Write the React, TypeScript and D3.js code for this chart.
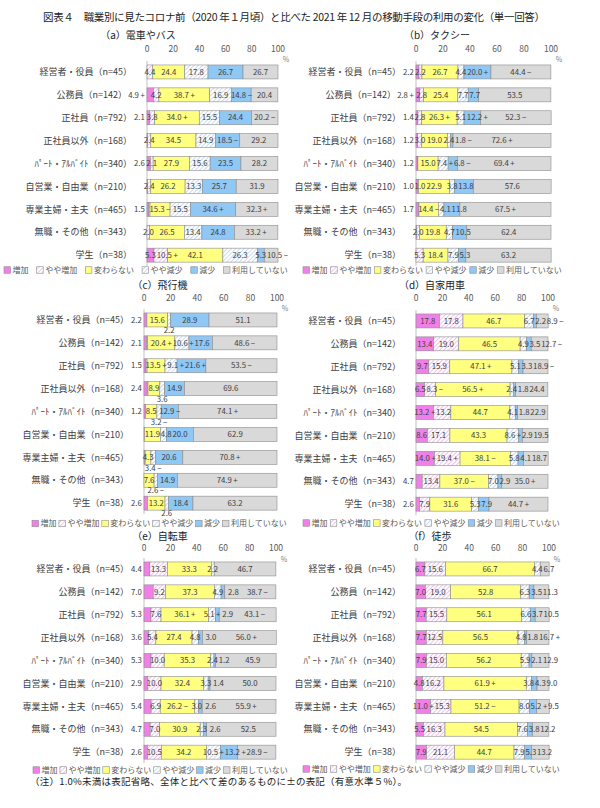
import React from "react";
import * as d3 from "d3";

const categories = [
  "経営者・役員（n=45）",
  "公務員（n=142）",
  "正社員（n=792）",
  "正社員以外（n=168）",
  "ﾊﾟｰﾄ・ｱﾙﾊﾞｲﾄ（n=340）",
  "自営業・自由業（n=210）",
  "専業主婦・主夫（n=465）",
  "無職・その他（n=343）",
  "学生（n=38）",
];

const segments = ["増加", "やや増加", "変わらない", "やや減少", "減少", "利用していない"];
const ticks = [0, 20, 40, 60, 80, 100];

const panelTitles = ["（a）電車やバス", "（b）タクシー", "（c）飛行機", "（d）自家用車", "（e）自転車", "（f）徒歩"];

// values with significance marks (+ / −); values under 1.0 are not labelled
const trainBus = [
  ["0", "4.4", "24.4", "17.8", "26.7", "26.7"],
  ["4.9+", "4.2", "38.7+", "16.9", "14.8−", "20.4"],
  ["2.1", "3.8", "34.0+", "15.5", "24.4", "20.2−"],
  ["0.5", "2.4", "34.5", "14.9", "18.5−", "29.2"],
  ["2.6", "2.1", "27.9", "15.6", "23.5", "28.2"],
  ["0.5", "2.4", "26.2", "13.3", "25.7", "31.9"],
  ["1.5", "0.8", "15.3−", "15.5", "34.6+", "32.3+"],
  ["0", "2.0", "26.5", "13.4", "24.8", "33.2+"],
  ["5.3", "10.5+", "42.1", "26.3", "5.3", "10.5−"],
];
const taxi = [
  ["2.2", "2.2", "26.7", "4.4", "20.0+", "44.4−"],
  ["2.8+", "2.8", "25.4", "7.7", "7.7", "53.5"],
  ["1.4", "2.8", "26.3+", "5.1", "12.2+", "52.3−"],
  ["1.2", "3.0", "19.0", "2.4", "1.8−", "72.6+"],
  ["1.2", "0.2", "15.0", "7.4+", "6.8−", "69.4+"],
  ["1.0", "1.0", "22.9", "3.8", "13.8", "57.6"],
  ["1.7", "0.5", "14.4−", "4.1", "11.8", "67.5+"],
  ["0.6", "2.0", "19.8", "4.7", "10.5", "62.4"],
  ["0", "5.3", "18.4", "7.9", "5.3", "63.2"],
];
const airplane = [
  ["2.2", "0", "15.6", "2.2", "28.9", "51.1"],
  ["2.1", "0.7", "20.4+", "10.6+", "17.6", "48.6−"],
  ["1.5", "0.8", "13.5+", "9.1+", "21.6+", "53.5−"],
  ["2.4", "0.6", "8.9", "3.6", "14.9", "69.6"],
  ["1.2", "0", "8.5", "3.2−", "12.9−", "74.1+"],
  ["0.4", "0", "11.9", "4.8", "20.0", "62.9"],
  ["0.5", "0.4", "4.3", "3.4−", "20.6", "70.8+"],
  ["0", "0", "7.6", "2.6−", "14.9", "74.9+"],
  ["2.6", "0", "13.2", "2.6", "18.4", "63.2"],
];
const car = [
  ["17.8", "17.8", "46.7", "6.7", "2.2", "8.9−"],
  ["13.4", "19.0", "46.5", "4.9", "3.5", "12.7−"],
  ["9.7", "15.9", "47.1+", "5.1", "3.3", "18.9−"],
  ["6.5", "8.3−", "56.5+", "2.4", "1.8", "24.4"],
  ["13.2+", "13.2", "44.7", "4.1", "1.8", "22.9"],
  ["8.6", "17.1", "43.3", "8.6+", "2.9", "19.5"],
  ["14.0+", "19.4+", "38.1−", "5.8", "4.1", "18.7"],
  ["4.7", "13.4", "37.0−", "7.0", "2.9", "35.0+"],
  ["2.6", "7.9", "31.6", "5.3", "7.9", "44.7+"],
];
const bicycle = [
  ["4.4", "13.3", "33.3", "2.2", "0", "46.7"],
  ["7.0", "9.2", "37.3", "4.9", "2.8", "38.7−"],
  ["5.3", "7.6", "36.1+", "5.1+", "2.9", "43.1−"],
  ["3.6", "5.4", "27.4", "4.8", "3.0", "56.0+"],
  ["5.3", "10.0", "35.3", "2.4", "1.2", "45.9"],
  ["2.9", "10.0", "32.4", "3.3", "1.4", "50.0"],
  ["5.4", "6.9", "26.2−", "3.0", "2.6", "55.9+"],
  ["4.7", "7.0", "30.9", "2.3", "2.6", "52.5"],
  ["2.6", "10.5", "34.2", "10.5+", "13.2+", "28.9−"],
];
const walking = [
  ["6.7", "15.6", "66.7", "4.4", "0", "6.7"],
  ["7.0", "19.0", "52.8", "6.3", "3.5", "11.3"],
  ["7.7", "15.5", "56.1", "6.6", "3.7", "10.5"],
  ["7.7", "12.5", "56.5", "4.8", "1.8", "16.7+"],
  ["7.9", "15.0", "56.2", "5.9", "2.1", "12.9"],
  ["4.8", "16.2", "61.9+", "3.8", "4.3", "9.0"],
  ["11.0+", "15.3", "51.2−", "8.0", "5.2+", "9.5"],
  ["5.5", "16.3", "54.5", "7.6", "3.8", "12.2"],
  ["7.9", "21.1", "44.7", "7.9", "5.3", "13.2"],
];

const panelData = [trainBus, taxi, airplane, car, bicycle, walking];

const titleText = "図表４　職業別に見たコロナ前（2020 年１月頃）と比べた 2021 年 12 月の移動手段の利用の変化（単一回答）";
const noteText = "（注）1.0%未満は表記省略、全体と比べて差のあるものに±の表記（有意水準５%）。";

// ---------- layout / style ----------
const FONT = "'Noto Sans CJK JP', 'Noto Sans', sans-serif";
const TEXT = "#404040";
const fills = ["#F080E8", "url(#hatchPink)", "#FFFF80", "url(#hatchBlue)", "#8FC7F5", "#D9D9D9"];
const STEP = 22.9;

const layouts = [
  { x0: 147, x1: 278, titleX: 138, titleY: 35, axisY: 49, rowsTop: 60.5, legendY: 270, legend: [4, 288], firstOut: 5, below: false },
  { x0: 416, x1: 551, titleX: 437, titleY: 35, axisY: 49, rowsTop: 60.5, legendY: 270, legend: [303, 562], firstOut: 5, below: false },
  { x0: 144, x1: 277, titleX: 160, titleY: 285.5, axisY: 298, rowsTop: 308.5, legendY: 523.5, legend: [32, 287], firstOut: 5, below: true },
  { x0: 416, x1: 548, titleX: 432, titleY: 285.5, axisY: 298, rowsTop: 309.5, legendY: 523, legend: [303, 560], firstOut: 5, below: false },
  { x0: 144, x1: 276, titleX: 160, titleY: 536.5, axisY: 548.5, rowsTop: 557.5, legendY: 770, legend: [33, 288], firstOut: 100, below: false },
  { x0: 416, x1: 549, titleX: 430, titleY: 536.5, axisY: 548.5, rowsTop: 557.5, legendY: 769, legend: [303, 560], firstOut: 0, below: false },
];

function parse(s: string) {
  const sig = s.endsWith("+") ? "+" : s.endsWith("−") ? "−" : "";
  return { v: parseFloat(s), sig };
}
const VFS = 7.8;
const textW = (t: string, fs: number) => {
  let w = 0;
  for (const ch of t) w += ch === "." ? 0.3 : ch === "\u2009" ? 0.2 : 0.56;
  return w * fs;
};

function Legend({ cfg }: { cfg: any }) {
  const fs = 8;
  const sq = 6.5;
  const widths = segments.map((s) => sq + 2 + s.length * fs);
  const total = d3.sum(widths);
  const gap = (cfg.legend[1] - cfg.legend[0] - total) / (segments.length - 1);
  let cx = cfg.legend[0];
  return (
    <g>
      {segments.map((s, i) => {
        const x = cx;
        cx += widths[i] + gap;
        return (
          <g key={s}>
            <rect x={x} y={cfg.legendY - sq / 2} width={sq} height={sq} fill={fills[i]} stroke="#8c8c8c" strokeWidth={0.6} />
            <text x={x + sq + 2} y={cfg.legendY} dy="0.35em" fontSize={fs} fill="#595959" fontFamily={FONT}>{s}</text>
          </g>
        );
      })}
    </g>
  );
}

function Panel({ idx }: { idx: number }) {
  const cfg = layouts[idx];
  const rows = panelData[idx];
  const x = d3.scaleLinear().domain([0, 100]).range([cfg.x0, cfg.x1]);
  const y = d3
    .scaleBand<string>()
    .domain(categories)
    .range([cfg.rowsTop, cfg.rowsTop + categories.length * STEP])
    .paddingInner(0.39)
    .paddingOuter(0.195);
  const bw = y.bandwidth();

  return (
    <g>
      <text x={cfg.titleX} y={cfg.titleY} dy="0.35em" textAnchor="middle" fontSize={10} fill="#222" fontFamily={FONT}>
        {panelTitles[idx]}
      </text>
      {ticks.map((t) => (
        <text key={t} x={x(t)} y={cfg.axisY} dy="0.35em" textAnchor="middle" fontSize={8.5} fill="#595959" fontFamily={FONT}>
          {t}
        </text>
      ))}
      <text x={cfg.x1 + 8} y={cfg.axisY + 11} dy="0.35em" textAnchor="middle" fontSize={7} fill="#7f7f7f" fontFamily={FONT}>%</text>
      <line x1={cfg.x0} x2={cfg.x0} y1={y(categories[0])! - 4} y2={y(categories[8])! + bw + 4} stroke="#a6a6a6" strokeWidth={0.7} />
      {categories.map((c, r) => {
        const vals = rows[r].map(parse);
        const y0 = y(c)!;
        const cy = y0 + bw / 2;
        let acc = 0;
        const segs = vals.map((d, i) => {
          const s = { ...d, i, start: acc, end: acc + d.v };
          acc += d.v;
          return s;
        });
        let pushedEnd: number | null = null;
        let catEnd = cfg.x0 - 15;
        const labels: any[] = [];
        segs.forEach((s) => {
          if (s.v < 1) return;
          const txt = s.v.toFixed(1) + (s.sig ? "\u2009" + s.sig : "");
          const w = textW(txt, VFS);
          let lx = x((s.start + s.end) / 2);
          let ly = cy;
          let fixed = false;
          if (s.i === 0 && s.v < cfg.firstOut) {
            lx = cfg.x0 - 2 - w / 2;
            fixed = true;
            catEnd = Math.min(catEnd, lx - w / 2 - 1);
          }
          if (cfg.below && s.i === 3 && s.v < 4.5) {
            ly = y0 + bw + 3.5;
          }
          if (idx === 4 && s.i === 4 && s.v < 4) {
            lx = x(s.end) + 3 + w / 2;
            pushedEnd = lx + w / 2;
          }
          if (s.i === 5 && pushedEnd !== null) {
            lx = (pushedEnd + cfg.x1) / 2;
          }
          labels.push({ txt, lx, ly, w, fixed, key: s.i });
        });
        // spread inline labels so that they sit side by side
        const inline = labels.filter((l) => l.ly === cy);
        let prevRight = -Infinity;
        inline.forEach((l) => {
          if (!l.fixed && l.lx - l.w / 2 < prevRight + 0.5) l.lx = prevRight + 0.5 + l.w / 2;
          prevRight = l.lx + l.w / 2;
        });
        let limit = cfg.x1 + 16;
        for (let k = inline.length - 1; k >= 0; k--) {
          const l = inline[k];
          if (l.fixed) break;
          if (l.lx + l.w / 2 > limit) l.lx = limit - l.w / 2;
          limit = l.lx - l.w / 2 - 0.5;
        }
        return (
          <g key={c}>
            <text x={catEnd} y={cy} dy="0.35em" textAnchor="end" fontSize={9} fill={TEXT} fontFamily={FONT}>
              {c}
            </text>
            {segs.map((s) =>
              s.v > 0 ? (
                <rect key={s.i} x={x(s.start)} y={y0} width={x(s.end) - x(s.start)} height={bw} fill={fills[s.i]} stroke="#8c8c8c" strokeWidth={0.6} />
              ) : null
            )}
            {labels.map((l) => (
              <text key={l.key} x={l.lx} y={l.ly} dy="0.35em" textAnchor="middle" fontSize={VFS} fill={TEXT} fontFamily={FONT}>
                {l.txt}
              </text>
            ))}
          </g>
        );
      })}
      <Legend cfg={cfg} />
    </g>
  );
}

export default function App() {
  return (
    <svg width={600} height={808} viewBox="0 0 600 808" style={{ display: "block", position: "absolute", left: 0, top: 0, background: "#fff" }}>
      <defs>
        <pattern id="hatchPink" patternUnits="userSpaceOnUse" width={3} height={3} patternTransform="rotate(45)">
          <rect width={3} height={3} fill="#fff" />
          <line x1={0} y1={0} x2={0} y2={3} stroke="#E29BDD" strokeWidth={1.2} />
        </pattern>
        <pattern id="hatchBlue" patternUnits="userSpaceOnUse" width={3} height={3} patternTransform="rotate(45)">
          <rect width={3} height={3} fill="#fff" />
          <line x1={0} y1={0} x2={0} y2={3} stroke="#A9C3E2" strokeWidth={1.2} />
        </pattern>
      </defs>
      <rect width={600} height={808} fill="#fff" />
      <text x={43} y={17} dy="0.35em" fontSize={10.5} fill="#222" fontFamily={FONT} textLength={502} lengthAdjust="spacing">
        {titleText}
      </text>
      {panelData.map((_, i) => (
        <Panel key={i} idx={i} />
      ))}
      <text x={30} y={782} dy="0.35em" fontSize={9.5} fill="#222" fontFamily={FONT} textLength={377} lengthAdjust="spacing">
        {noteText}
      </text>
    </svg>
  );
}
